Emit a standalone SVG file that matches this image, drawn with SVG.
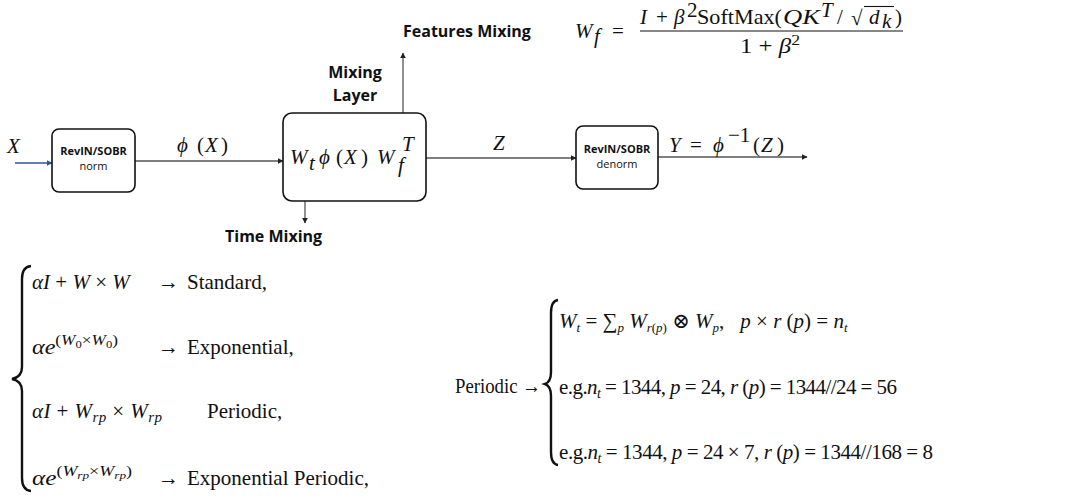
<svg xmlns="http://www.w3.org/2000/svg" width="1070" height="498" viewBox="0 0 1070 498">
<defs>
<style>
.box{fill:#fff;stroke:#111;stroke-width:1.6}
.lbl{font-family:"Open Sans","Liberation Sans",sans-serif;font-weight:700;fill:#111}
.sm{font-family:"Open Sans","Liberation Sans",sans-serif;fill:#111}
.m{font-family:"Liberation Serif","DejaVu Serif",serif;fill:#111;font-size:21px}
.i{font-style:italic}
.con{stroke:#555;stroke-width:1.3;fill:none}
.br{stroke:#111;stroke-width:2.4;fill:none}
</style>
<marker id="ah" viewBox="0 0 10 10" refX="9" refY="5" markerWidth="6" markerHeight="6" markerUnits="userSpaceOnUse" orient="auto">
<path d="M0,0 L10,5 L0,10 z" fill="#222"/>
</marker>
<marker id="ahb" viewBox="0 0 10 10" refX="9" refY="5" markerWidth="6" markerHeight="6" markerUnits="userSpaceOnUse" orient="auto">
<path d="M0,0 L10,5 L0,10 z" fill="#2f5597"/>
</marker>
</defs>
<rect width="1070" height="498" fill="#fff"/>

<g id="connectors">
<line x1="15" y1="163" x2="52" y2="163" stroke="#2f5597" stroke-width="1.6" marker-end="url(#ahb)"/>
<line class="con" x1="135" y1="161" x2="283" y2="161" marker-end="url(#ah)"/>
<line class="con" x1="426" y1="158" x2="576" y2="158" marker-end="url(#ah)"/>
<line class="con" x1="658" y1="157" x2="807" y2="157" marker-end="url(#ah)"/>
<line class="con" x1="403" y1="130" x2="403" y2="53" marker-end="url(#ah)"/>
<line class="con" x1="305" y1="172" x2="305" y2="223" marker-end="url(#ah)"/>
</g>

<g id="node-norm">
<rect class="box" x="52" y="129" width="83" height="63" rx="7"/>
<text class="lbl" x="93.5" y="155" font-size="11" text-anchor="middle">RevIN/SOBR</text>
<text class="sm" x="93.5" y="170" font-size="11" text-anchor="middle">norm</text>
</g>

<g id="node-mixing">
<rect class="box" x="283" y="113" width="143" height="88" rx="9" stroke-width="2"/>
<text class="m i" x="290" y="164" font-size="26">W</text>
<text class="m i" x="309" y="170" font-size="17">t</text>
<text class="m i" x="319" y="164" font-size="26">ϕ</text>
<text class="m" x="336" y="164" font-size="26">(</text>
<text class="m i" x="344" y="164" font-size="26">X</text>
<text class="m" x="361" y="164" font-size="26">)</text>
<text class="m i" x="377" y="164" font-size="26">W</text>
<text class="m i" x="398" y="172" font-size="17">f</text>
<text class="m i" x="402" y="151" font-size="17">T</text>
<text class="lbl" x="355" y="78" font-size="16" text-anchor="middle">Mixing</text>
<text class="lbl" x="355" y="101" font-size="16" text-anchor="middle">Layer</text>
</g>

<g id="node-denorm">
<rect class="box" x="576" y="126" width="82" height="63" rx="7"/>
<text class="lbl" x="617" y="153" font-size="11" text-anchor="middle">RevIN/SOBR</text>
<text class="sm" x="617" y="168" font-size="11" text-anchor="middle">denorm</text>
</g>

<g id="labels">
<text class="m i" x="7" y="153" font-size="25">X</text>
<text class="m i" x="177" y="152" font-size="25">ϕ</text>
<text class="m" x="197" y="152" font-size="25">(</text>
<text class="m i" x="205" y="152" font-size="25">X</text>
<text class="m" x="221" y="152" font-size="25">)</text>
<text class="m i" x="493" y="150" font-size="25">Z</text>
<text class="m i" x="669" y="152" font-size="25">Y</text>
<text class="m" x="690" y="152" font-size="25">=</text>
<text class="m i" x="713" y="152" font-size="25">ϕ</text>
<text class="m" x="728" y="142" font-size="16">−1</text>
<text class="m" x="753" y="152" font-size="25">(</text>
<text class="m i" x="761" y="152" font-size="25">Z</text>
<text class="m" x="777" y="152" font-size="25">)</text>
<text class="lbl" x="403" y="37" font-size="16">Features Mixing</text>
<text class="lbl" x="225" y="242" font-size="16">Time Mixing</text>
</g>

<g id="formula-wf">
<text class="m i" x="575" y="38" font-size="25">W</text>
<text class="m i" x="594" y="43" font-size="16">f</text>
<text class="m" x="612" y="38" font-size="25">=</text>
<text class="m i" x="640" y="24" font-size="24">I</text>
<text class="m" x="656" y="24" font-size="24">+</text>
<text class="m i" x="674" y="24" font-size="24">β</text>
<text class="m" x="687" y="17" font-size="14">2</text>
<text class="m" x="697" y="24" font-size="24" textLength="85" lengthAdjust="spacingAndGlyphs">SoftMax(</text>
<text class="m i" x="783" y="24" font-size="24" textLength="37" lengthAdjust="spacingAndGlyphs">QK</text>
<text class="m i" x="821" y="17" font-size="14">T</text>
<text class="m" x="837" y="24" font-size="24">/</text>
<text class="m" x="851" y="25" font-size="24">√</text>
<line x1="864" y1="6.5" x2="894" y2="6.5" stroke="#111" stroke-width="1.1"/>
<text class="m i" x="869" y="24" font-size="24">d</text>
<text class="m i" x="882" y="28" font-size="15">k</text>
<text class="m" x="895" y="24" font-size="24">)</text>
<line x1="640" y1="31" x2="903" y2="31" stroke="#111" stroke-width="1"/>
<text class="m" x="740" y="53" font-size="24" textLength="60" lengthAdjust="spacingAndGlyphs">1 + <tspan class="i">β</tspan><tspan font-size="15" dy="-8">2</tspan></text>
</g>

<g id="cases-left">
<path class="br" d="M31,266 Q22,267 22,279 L22,367 Q22,377 12,379 Q22,381 22,391 L22,478 Q22,490 31,491"/>
<text class="m" x="32" y="289"><tspan class="i">αI</tspan> + <tspan class="i">W</tspan> × <tspan class="i">W</tspan></text>
<text class="m" x="158" y="289">→</text>
<text class="m" x="187" y="289">Standard,</text>
<text class="m" x="32" y="354" textLength="86" lengthAdjust="spacingAndGlyphs"><tspan class="i">αe</tspan><tspan font-size="15" dy="-9">(</tspan><tspan class="i" font-size="15">W</tspan><tspan font-size="11" dy="3">0</tspan><tspan font-size="15" dy="-3">×</tspan><tspan class="i" font-size="15">W</tspan><tspan font-size="11" dy="3">0</tspan><tspan font-size="15" dy="-3">)</tspan></text>
<text class="m" x="158" y="354">→</text>
<text class="m" x="187" y="354">Exponential,</text>
<text class="m" x="32" y="418" textLength="130" lengthAdjust="spacing"><tspan class="i">αI</tspan> + <tspan class="i">W</tspan><tspan class="i" font-size="15" dy="4">rp</tspan><tspan dy="-4"> × </tspan><tspan class="i">W</tspan><tspan class="i" font-size="15" dy="4">rp</tspan></text>
<text class="m" x="207" y="418">Periodic,</text>
<text class="m" x="32" y="485" textLength="100" lengthAdjust="spacingAndGlyphs"><tspan class="i">αe</tspan><tspan font-size="15" dy="-9">(</tspan><tspan class="i" font-size="15">W</tspan><tspan class="i" font-size="11" dy="3">rp</tspan><tspan font-size="15" dy="-3">×</tspan><tspan class="i" font-size="15">W</tspan><tspan class="i" font-size="11" dy="3">rp</tspan><tspan font-size="15" dy="-3">)</tspan></text>
<text class="m" x="158" y="485">→</text>
<text class="m" x="187" y="485">Exponential Periodic,</text>
</g>

<g id="cases-right">
<text class="m" x="455" y="393" textLength="86" lengthAdjust="spacingAndGlyphs">Periodic →</text>
<path class="br" d="M558,300 Q551,301 551,313 L551,372 Q551,382 545,384 Q551,386 551,396 L551,452 Q551,464 558,465"/>
<text class="m" x="559" y="328" font-size="19"><tspan class="i">W</tspan><tspan class="i" font-size="13" dy="4">t</tspan><tspan dy="-4"> = ∑</tspan><tspan class="i" font-size="13" dy="4">p</tspan><tspan class="i" dy="-4"> W</tspan><tspan class="i" font-size="13" dy="4">r</tspan><tspan font-size="13">(</tspan><tspan class="i" font-size="13">p</tspan><tspan font-size="13">)</tspan><tspan dy="-4"> ⊗ </tspan><tspan class="i">W</tspan><tspan class="i" font-size="13" dy="4">p</tspan><tspan dy="-4">,</tspan><tspan class="i" dx="16">p</tspan> × <tspan class="i">r</tspan> (<tspan class="i">p</tspan>) = <tspan class="i">n</tspan><tspan class="i" font-size="13" dy="4">t</tspan></text>
<text class="m" x="559" y="394" textLength="338" lengthAdjust="spacing">e.g.<tspan class="i">n</tspan><tspan class="i" font-size="14" dy="4">t</tspan><tspan dy="-4"> = 1344, </tspan><tspan class="i">p</tspan> = 24, <tspan class="i">r</tspan> (<tspan class="i">p</tspan>) = 1344//24 = 56</text>
<text class="m" x="559" y="459" textLength="374" lengthAdjust="spacing">e.g.<tspan class="i">n</tspan><tspan class="i" font-size="14" dy="4">t</tspan><tspan dy="-4"> = 1344, </tspan><tspan class="i">p</tspan> = 24 × 7, <tspan class="i">r</tspan> (<tspan class="i">p</tspan>) = 1344//168 = 8</text>
</g>
</svg>
